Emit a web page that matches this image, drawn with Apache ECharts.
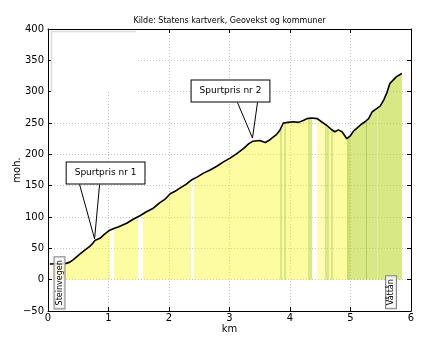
<!DOCTYPE html>
<html>
<head>
<meta charset="utf-8">
<script src="https://cdn.jsdelivr.net/npm/echarts@6/dist/echarts.min.js"></script>
<style>
html,body{margin:0;padding:0;background:#fff;}
#chart{width:434px;height:348px;}
</style>
</head>
<body>
<div id="chart"></div>
<script>
// ---- data ----
const titleText = 'Kilde: Statens kartverk, Geovekst og kommuner';
const xAxisName = 'km';
const yAxisName = 'moh.';

const kmValues = [0.03, 0.30, 0.36, 0.42, 0.53, 0.62, 0.69, 0.74, 0.78, 0.86, 0.94, 1.02, 1.10, 1.16, 1.30, 1.40,
  1.52, 1.62, 1.74, 1.85, 1.93, 2.02, 2.10, 2.18, 2.28, 2.37, 2.47, 2.57, 2.68, 2.79, 2.90, 3.01, 3.12, 3.23,
  3.32, 3.39, 3.50, 3.59, 3.65, 3.70, 3.78, 3.83, 3.89, 3.97, 4.05, 4.14, 4.22, 4.28, 4.36, 4.45, 4.52, 4.61,
  4.68, 4.74, 4.80, 4.86, 4.94, 5.00, 5.05, 5.12, 5.18, 5.24, 5.30, 5.36, 5.42, 5.49, 5.55, 5.60, 5.65, 5.70,
  5.76, 5.85];
const elevValues = [25, 26, 28, 32, 41, 48, 53, 58, 63, 66, 73, 79, 82, 84, 90, 96,
  102, 108, 114, 123, 128, 137, 141, 146, 152, 159, 164, 170, 175, 181, 188, 194, 201, 209,
  217, 221, 222, 219, 222, 226, 232, 238, 250, 251, 252, 251, 254, 257, 258, 257, 252, 246,
  240, 236, 239, 236, 225, 230, 237, 243, 248, 252, 257, 268, 272, 277, 287, 298, 313, 318,
  324, 329];

// ground-cover bands under the profile
const bandStart = [0.00, 0.09, 1.02, 1.09, 1.49, 1.57, 2.37, 2.41, 3.83, 3.86, 3.90, 3.93, 4.30, 4.36, 4.44, 4.58, 4.65, 4.67, 4.71, 4.95, 4.99, 5.25, 5.28, 5.43, 5.45];
const bandEnd   = [0.09, 1.02, 1.09, 1.49, 1.57, 2.37, 2.41, 3.83, 3.86, 3.90, 3.93, 4.30, 4.36, 4.44, 4.58, 4.65, 4.67, 4.71, 4.95, 4.99, 5.25, 5.28, 5.43, 5.45, 6.00];
const bandKind  = ['none', 'field', 'none', 'field', 'none', 'field', 'none', 'field', 'grass', 'field', 'grass', 'field', 'grass', 'none', 'pale', 'grass', 'field', 'grass', 'field', 'darkgrass', 'grass', 'forest', 'grass', 'palegrass', 'grass'];

const placeNames = ['Steinvegen', 'Våttån'];
const placeKm = [0.19, 5.67];
const placeElev = [-5, -20];

const sprintTexts = ['Spurtpris nr 1', 'Spurtpris nr 2'];
const sprintKm = [0.77, 3.38];
const sprintElev = [65, 226];

// ---- styles ----
const kindColor = {
  none: 'rgba(255,255,255,0)',
  field: 'rgba(248,246,8,0.38)',
  pale: 'rgba(248,246,8,0.30)',
  grass: 'rgba(183,213,33,0.55)',
  darkgrass: 'rgba(170,205,30,0.65)',
  palegrass: 'rgba(183,213,33,0.42)',
  forest: 'rgba(140,190,30,0.72)'
};
const boxOffset = [[11, -66], [-22, -47]]; // box centre relative to pointed spot (px)
const FONT = 'DejaVu Sans, sans-serif';
const minus = v => String(v).replace('-', '\u2212');

const profile = kmValues.map((k, i) => [k, elevValues[i]]);
const pieces = bandStart.map((s, i) => ({ gte: s, lt: bandEnd[i], color: kindColor[bandKind[i]] }));

const chart = echarts.init(document.getElementById('chart'), null, { renderer: 'canvas' });

const axisCommon = {
  type: 'value',
  axisLine: { show: true, onZero: false, lineStyle: { color: '#000', width: 1 } },
  axisTick: { show: true, inside: true, length: 4, lineStyle: { color: '#000' } }
};
const gridLine = { show: true, lineStyle: { color: '#c4c4c4', type: [1, 2], width: 1 } };

chart.setOption({
  animation: false,
  textStyle: { fontFamily: FONT },
  grid: { left: 48, right: 23, top: 29, bottom: 37, containLabel: false, outerBoundsMode: 'none' },
  xAxis: [
    Object.assign({}, axisCommon, {
      min: 0, max: 6, interval: 1, position: 'bottom',
      name: xAxisName, nameLocation: 'middle', nameGap: 13, nameMoveOverlap: false,
      nameTextStyle: { fontSize: 10, color: '#000', fontFamily: FONT },
      axisLabel: { color: '#000', fontSize: 10, margin: 2, fontFamily: FONT, formatter: minus },
      splitLine: gridLine
    }),
    Object.assign({}, axisCommon, {
      min: 0, max: 6, interval: 1, position: 'top',
      axisLabel: { show: false }, splitLine: { show: false }
    })
  ],
  yAxis: [
    Object.assign({}, axisCommon, {
      min: -50, max: 400, interval: 50, position: 'left',
      name: yAxisName, nameLocation: 'middle', nameGap: 26, nameRotate: 90, nameMoveOverlap: false,
      nameTextStyle: { fontSize: 10, color: '#000', fontFamily: FONT },
      axisLabel: { color: '#000', fontSize: 10, margin: 4, fontFamily: FONT, formatter: minus },
      splitLine: gridLine
    }),
    Object.assign({}, axisCommon, {
      min: -50, max: 400, interval: 50, position: 'right',
      axisLabel: { show: false }, splitLine: { show: false }
    })
  ],
  visualMap: {
    type: 'piecewise', show: false, dimension: 0, seriesIndex: 0,
    pieces: pieces
  },
  series: [
    {
      type: 'line', data: profile, showSymbol: false, symbol: 'none',
      lineStyle: { width: 0, opacity: 0 },
      areaStyle: { opacity: 1, origin: 0 },
      z: 2, silent: true
    },
    {
      type: 'line', data: profile, showSymbol: false, symbol: 'none',
      lineStyle: { color: '#000', width: 1.6 },
      z: 3, silent: true
    }
  ]
});

function buildGraphics() {
  const g = [];
  // empty framed box top-left
  g.push({ type: 'rect', z: 1, shape: { x: 51, y: 30, width: 85, height: 62 }, style: { fill: '#fff', stroke: null } });
  g.push({ type: 'polyline', z: 1, shape: { points: [[51.5, 92], [51.5, 31.5], [136, 31.5]] }, style: { stroke: '#dcdcdc', lineWidth: 1.5, fill: null } });
  // title
  g.push({ type: 'text', z: 10, x: 229.5, y: 21, style: { text: titleText, font: '8px ' + FONT, fill: '#000', align: 'center', verticalAlign: 'middle' } });
  // place labels
  placeNames.forEach((name, i) => {
    const p = chart.convertToPixel({ xAxisIndex: 0, yAxisIndex: 0 }, [placeKm[i], placeElev[i]]);
    g.push({
      type: 'text', z: 10, x: p[0], y: p[1], rotation: Math.PI / 2,
      style: {
        text: name, font: '8px ' + FONT, fill: '#000', align: 'center', verticalAlign: 'middle',
        backgroundColor: 'rgba(255,255,255,0.75)', borderColor: '#888', borderWidth: 1, padding: [1, 3, 1, 3]
      }
    });
  });
  // sprint callouts
  sprintTexts.forEach((t, i) => {
    const p = chart.convertToPixel({ xAxisIndex: 0, yAxisIndex: 0 }, [sprintKm[i], sprintElev[i]]);
    const cx = p[0] + boxOffset[i][0], cy = p[1] + boxOffset[i][1];
    const bottom = cy + 11.5;
    const mid = p[0] - 5;
    g.push({ type: 'polyline', z: 10, shape: { points: [[mid - 10, bottom], [p[0], p[1]], [mid + 10, bottom]] }, style: { stroke: '#000', lineWidth: 1, fill: null } });
    g.push({
      type: 'text', z: 11, x: cx, y: cy,
      style: {
        text: t, font: '9px ' + FONT, fill: '#000', align: 'center', verticalAlign: 'middle',
        backgroundColor: '#fff', borderColor: '#000', borderWidth: 1, padding: [6, 8, 6, 8]
      }
    });
  });
  return g;
}
chart.setOption({ graphic: buildGraphics() });
</script>
</body>
</html>
